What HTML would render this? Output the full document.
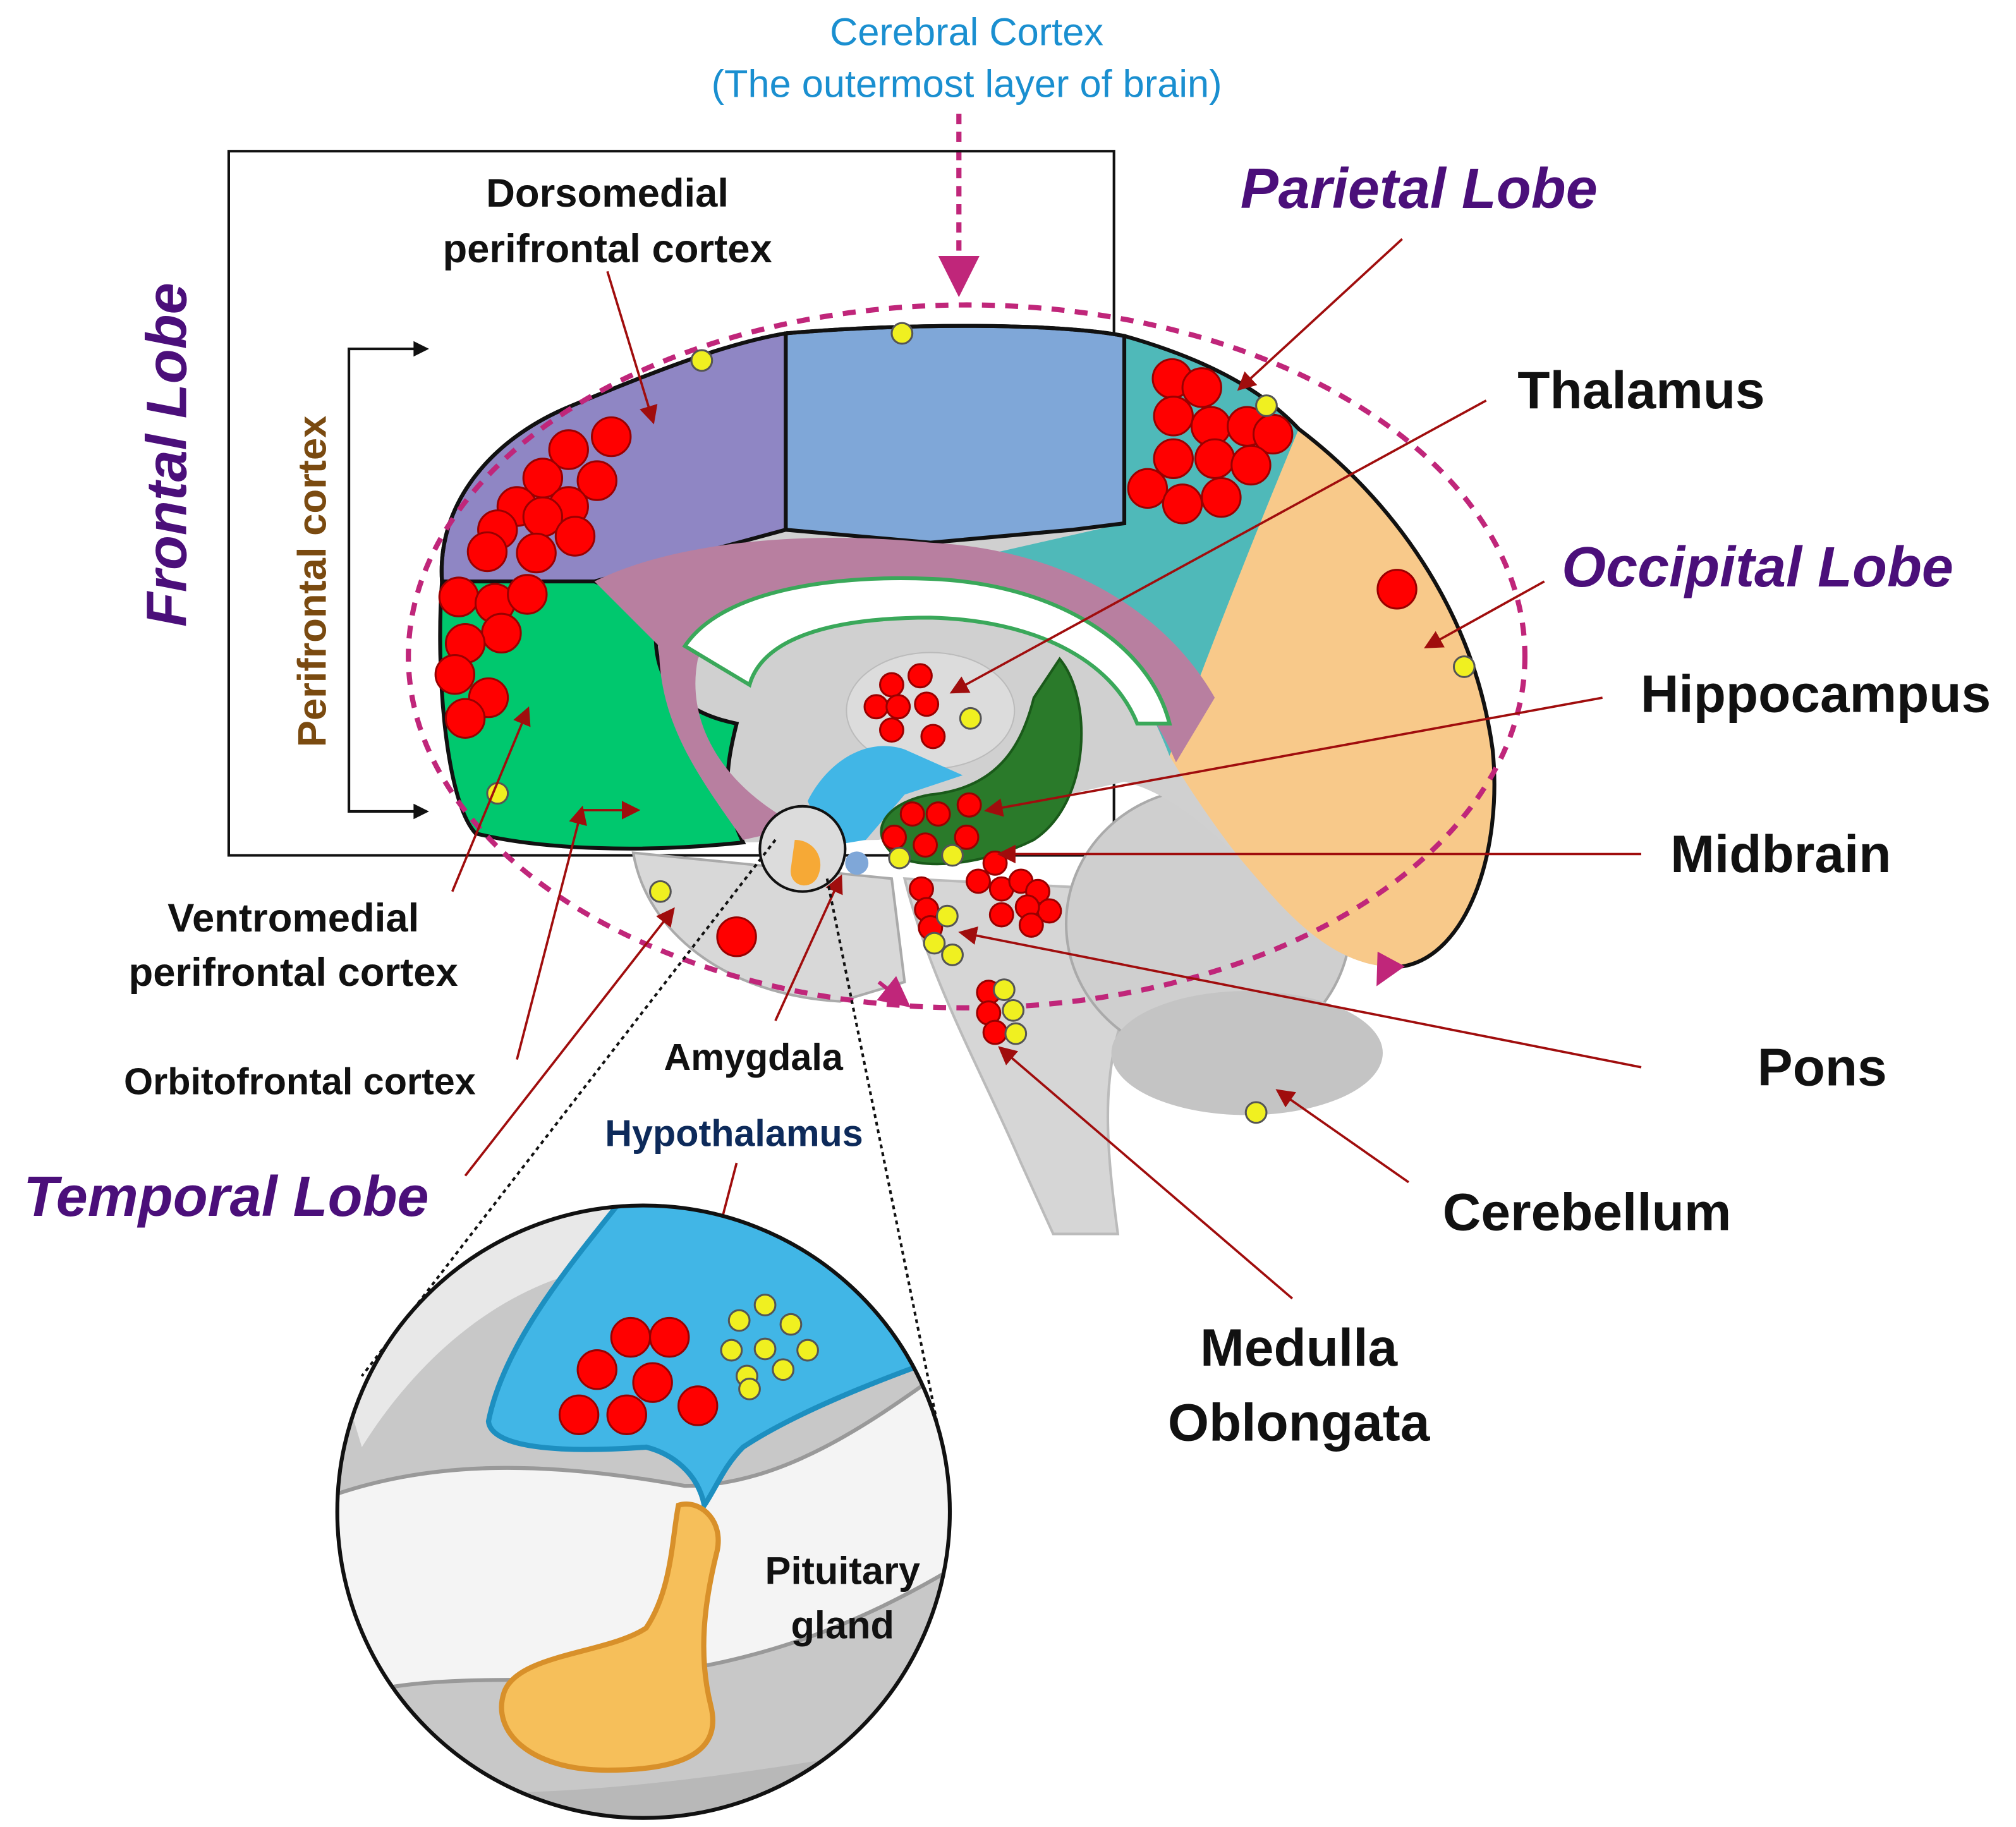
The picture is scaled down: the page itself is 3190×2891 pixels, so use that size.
<!DOCTYPE html>
<html><head><meta charset="utf-8"><style>
html,body{margin:0;padding:0;background:#fff;}
svg{display:block;}
text{font-family:"Liberation Sans",sans-serif;}
</style></head><body>
<svg width="3190" height="2891" viewBox="0 0 1560 1414" preserveAspectRatio="none" xmlns="http://www.w3.org/2000/svg">
<defs>
<marker id="ar" markerWidth="8" markerHeight="8" refX="6" refY="4" orient="auto"><path d="M0,0 L8,4 L0,8 Z" fill="#a00d0d"/></marker>
<marker id="am" markerWidth="8" markerHeight="8" refX="6" refY="4" orient="auto"><path d="M0,0 L8,4 L0,8 Z" fill="#c0267a"/></marker>
<clipPath id="cc"><circle cx="498" cy="1170" r="237"/></clipPath>
</defs>
<rect width="1560" height="1414" fill="#fff"/>
<text x="748" y="35" font-size="30" fill="#1a8fd0" text-anchor="middle">Cerebral Cortex</text>
<text x="748" y="75" font-size="30" fill="#1a8fd0" text-anchor="middle">(The outermost layer of brain)</text>
<line x1="742" y1="88" x2="742" y2="222" stroke="#c0267a" stroke-width="4" stroke-dasharray="8,6" marker-end="url(#am)"/>
<rect x="177" y="117" width="685" height="545" fill="none" stroke="#111" stroke-width="2"/>
<path d="M700,680 C720,760 760,830 790,900 L815,955 L865,955 C855,880 850,820 880,760 L900,690 Z" fill="#d6d6d6" stroke="#bbb" stroke-width="2"/>
<ellipse cx="935" cy="715" rx="110" ry="105" fill="#cfcfcf" stroke="#aaa" stroke-width="2"/>
<ellipse cx="965" cy="815" rx="105" ry="48" fill="#c4c4c4"/>
<path d="M490,660 C500,720 560,770 650,775 L700,760 L690,680 Z" fill="#d8d8d8" stroke="#aaa" stroke-width="2"/>
<path d="M342,450 C338,390 380,340 440,315 C500,290 560,266 608,258 C700,250 820,250 870,260 C930,277 975,300 1005,332 C1075,385 1140,470 1155,580 C1163,660 1135,740 1085,748 C1030,752 990,700 960,665 C930,635 900,612 870,605 L760,630 L680,650 L575,652 C500,660 420,658 368,645 C345,620 337,520 342,450 Z" fill="#d0d0d0"/>
<path d="M1005,332 C1075,385 1140,470 1155,580 C1163,660 1135,740 1085,748 C1030,752 990,700 960,665 C940,640 920,610 905,585 C930,520 960,440 1005,332 Z" fill="#f8c98a"/>
<path d="M870,260 C930,277 975,300 1005,332 C960,440 930,520 905,585 C880,520 840,470 800,445 L760,430 L870,405 Z" fill="#4fb9b9"/>
<path d="M608,258 C700,250 820,250 870,260 L870,405 L830,410 L720,420 L608,410 Z" fill="#7fa7d8" stroke="#111" stroke-width="3"/>
<path d="M342,450 C338,390 380,340 440,315 C500,290 560,266 608,258 L608,410 L460,450 Z" fill="#8f86c4" stroke="#111" stroke-width="3"/>
<path d="M342,450 L460,450 L510,470 C500,520 520,550 570,560 C560,600 560,620 575,652 C500,660 420,658 368,645 C345,620 337,520 342,450 Z" fill="#00c86e" stroke="#111" stroke-width="3"/>
<path d="M342,450 C338,390 380,340 440,315 C500,290 560,266 608,258 C700,250 820,250 870,260 C930,277 975,300 1005,332 C1075,385 1140,470 1155,580 C1163,660 1135,740 1085,748" fill="none" stroke="#111" stroke-width="3"/>
<path d="M460,450 C520,420 620,410 720,420 C820,425 900,470 940,540 L910,590 C880,520 820,470 720,460 C620,455 560,470 540,510 C530,560 560,610 620,640 L575,650 C540,600 510,560 510,500 Z" fill="#b87fa0"/>
<path d="M530,500 C560,455 650,445 720,448 C820,452 890,500 905,560 L880,560 C860,510 800,480 720,478 C640,478 590,495 580,530 Z" fill="#fff" stroke="#3aa85a" stroke-width="3"/>
<ellipse cx="720" cy="550" rx="65" ry="45" fill="#dcdcdc" stroke="#bbb"/>
<path d="M625,620 C640,590 670,570 700,580 L745,600 L700,615 L670,650 L640,655 Z" fill="#41b6e6"/>
<path d="M820,510 C845,540 845,620 800,650 C760,670 710,675 690,660 C670,640 690,620 720,615 C770,610 790,580 800,540 Z" fill="#2a7a2a" stroke="#1a5a1a" stroke-width="2"/>
<ellipse cx="748" cy="508" rx="432" ry="272" fill="none" stroke="#c0267a" stroke-width="4" stroke-dasharray="10,8"/>
<circle cx="621" cy="657" r="33" fill="#dcdcdc" stroke="#111" stroke-width="2"/>
<path d="M615,650 C630,650 640,665 632,680 C625,690 610,685 612,672 Z" fill="#f6a936"/>
<circle cx="663" cy="668" r="9" fill="#7fa7d8"/>
<path d="M330,270 L270,270 L270,628 L330,628" fill="none" stroke="#111" stroke-width="2"/>
<path d="M320,264 L332,270 L320,276 Z M320,622 L332,628 L320,634 Z" fill="#111"/>
<g fill="#f00" stroke="#900" stroke-width="1.5">
<circle cx="473" cy="338" r="15"/><circle cx="440" cy="348" r="15"/><circle cx="462" cy="372" r="15"/><circle cx="420" cy="370" r="15"/><circle cx="400" cy="392" r="15"/><circle cx="440" cy="392" r="15"/><circle cx="420" cy="400" r="15"/><circle cx="385" cy="410" r="15"/><circle cx="445" cy="415" r="15"/><circle cx="377" cy="427" r="15"/><circle cx="415" cy="428" r="15"/>
<circle cx="355" cy="462" r="15"/><circle cx="383" cy="467" r="15"/><circle cx="408" cy="460" r="15"/><circle cx="388" cy="490" r="15"/><circle cx="360" cy="498" r="15"/><circle cx="352" cy="522" r="15"/><circle cx="378" cy="540" r="15"/><circle cx="360" cy="556" r="15"/>
<circle cx="907" cy="293" r="15"/><circle cx="930" cy="300" r="15"/><circle cx="908" cy="322" r="15"/><circle cx="937" cy="330" r="15"/><circle cx="965" cy="330" r="15"/><circle cx="985" cy="336" r="15"/><circle cx="908" cy="355" r="15"/><circle cx="940" cy="355" r="15"/><circle cx="968" cy="360" r="15"/><circle cx="888" cy="378" r="15"/><circle cx="915" cy="390" r="15"/><circle cx="945" cy="385" r="15"/>
<circle cx="1081" cy="456" r="15"/><circle cx="570" cy="725" r="15"/>
<circle cx="690" cy="530" r="9"/><circle cx="712" cy="523" r="9"/><circle cx="678" cy="547" r="9"/><circle cx="695" cy="547" r="9"/><circle cx="717" cy="545" r="9"/><circle cx="690" cy="565" r="9"/><circle cx="722" cy="570" r="9"/>
<circle cx="706" cy="630" r="9"/><circle cx="726" cy="630" r="9"/><circle cx="750" cy="623" r="9"/><circle cx="692" cy="648" r="9"/><circle cx="716" cy="654" r="9"/><circle cx="748" cy="648" r="9"/>
<circle cx="770" cy="668" r="9"/><circle cx="757" cy="682" r="9"/><circle cx="775" cy="688" r="9"/><circle cx="790" cy="682" r="9"/><circle cx="803" cy="690" r="9"/><circle cx="812" cy="705" r="9"/><circle cx="795" cy="702" r="9"/><circle cx="775" cy="708" r="9"/><circle cx="798" cy="716" r="9"/>
<circle cx="713" cy="688" r="9"/><circle cx="717" cy="704" r="9"/><circle cx="720" cy="718" r="9"/>
<circle cx="765" cy="768" r="9"/><circle cx="765" cy="784" r="9"/><circle cx="770" cy="799" r="9"/>
</g>
<g fill="#f0f020" stroke="#555" stroke-width="1.5">
<circle cx="543" cy="279" r="8"/><circle cx="698" cy="258" r="8"/><circle cx="980" cy="314" r="8"/><circle cx="1133" cy="516" r="8"/><circle cx="751" cy="556" r="8"/><circle cx="385" cy="614" r="8"/><circle cx="696" cy="664" r="8"/><circle cx="737" cy="662" r="8"/><circle cx="511" cy="690" r="8"/><circle cx="972" cy="861" r="8"/>
<circle cx="733" cy="709" r="8"/><circle cx="723" cy="730" r="8"/><circle cx="737" cy="739" r="8"/><circle cx="777" cy="766" r="8"/><circle cx="784" cy="782" r="8"/><circle cx="786" cy="800" r="8"/>
</g>
<g stroke="#a00d0d" stroke-width="1.8" fill="none" marker-end="url(#ar)">
<line x1="470" y1="210" x2="505" y2="325"/>
<line x1="1085" y1="185" x2="960" y2="300"/>
<line x1="1150" y1="310" x2="738" y2="535"/>
<line x1="1195" y1="450" x2="1105" y2="500"/>
<line x1="1240" y1="540" x2="765" y2="627"/>
<line x1="1270" y1="661" x2="775" y2="661"/>
<line x1="1270" y1="826" x2="745" y2="722"/>
<line x1="1090" y1="915" x2="990" y2="845"/>
<line x1="1000" y1="1005" x2="775" y2="812"/>
<line x1="350" y1="690" x2="408" y2="550"/>
<line x1="400" y1="820" x2="450" y2="627"/><line x1="450" y1="627" x2="492" y2="627"/>
<line x1="360" y1="910" x2="520" y2="705"/>
<line x1="600" y1="790" x2="650" y2="680"/>
<line x1="570" y1="900" x2="553" y2="965"/>
<line x1="580" y1="1235" x2="525" y2="1295"/>
</g>
<line x1="680" y1="760" x2="700" y2="776" stroke="#c0267a" stroke-width="3" marker-end="url(#am)"/>
<line x1="1075" y1="745" x2="1068" y2="758" stroke="#c0267a" stroke-width="3" marker-end="url(#am)"/>
<line x1="600" y1="650" x2="280" y2="1065" stroke="#111" stroke-width="2" stroke-dasharray="3,3"/>
<line x1="640" y1="680" x2="733" y2="1140" stroke="#111" stroke-width="2" stroke-dasharray="3,3"/>
<g clip-path="url(#cc)">
<rect x="250" y="930" width="500" height="480" fill="#c8c8c8"/>
<path d="M250,1020 C330,950 420,930 480,930 L470,980 C400,990 330,1040 280,1120 Z" fill="#e8e8e8"/>
<path d="M250,1160 C330,1130 420,1130 530,1150 C620,1150 700,1080 760,1040 L760,1200 C680,1250 580,1300 430,1300 C350,1300 300,1300 250,1320 Z" fill="#f4f4f4" stroke="#999" stroke-width="3"/>
<path d="M480,930 L760,930 L760,1040 C700,1060 620,1090 575,1120 C560,1135 555,1150 545,1165 C540,1140 520,1125 500,1120 C430,1125 380,1120 378,1100 C390,1040 440,980 480,930 Z" fill="#41b6e6" stroke="#1d8fc0" stroke-width="4"/>
<path d="M525,1165 C540,1160 560,1175 555,1200 C545,1240 540,1280 550,1320 C560,1360 520,1370 470,1370 C410,1370 380,1340 390,1310 C400,1280 470,1280 500,1260 C520,1230 520,1190 525,1165 Z" fill="#f6bf5a" stroke="#d8902a" stroke-width="4"/>
<path d="M250,1380 C350,1390 450,1400 760,1340 L760,1414 L250,1414 Z" fill="#b8b8b8"/>
</g>
<circle cx="498" cy="1170" r="237" fill="none" stroke="#111" stroke-width="3"/>
<g fill="#f00" stroke="#900" stroke-width="1.5">
<circle cx="488" cy="1035" r="15"/><circle cx="518" cy="1035" r="15"/><circle cx="462" cy="1060" r="15"/><circle cx="505" cy="1070" r="15"/><circle cx="448" cy="1095" r="15"/><circle cx="485" cy="1095" r="15"/><circle cx="540" cy="1088" r="15"/>
</g>
<g fill="#f0f020" stroke="#555" stroke-width="1.5">
<circle cx="592" cy="1010" r="8"/><circle cx="572" cy="1022" r="8"/><circle cx="612" cy="1025" r="8"/><circle cx="566" cy="1045" r="8"/><circle cx="592" cy="1044" r="8"/><circle cx="625" cy="1045" r="8"/><circle cx="578" cy="1065" r="8"/><circle cx="606" cy="1060" r="8"/><circle cx="580" cy="1075" r="8"/>
</g>
<g font-weight="bold" fill="#111">
<text x="470" y="160" font-size="31" text-anchor="middle">Dorsomedial</text>
<text x="470" y="203" font-size="31" text-anchor="middle">perifrontal cortex</text>
<text x="1270" y="316" font-size="41" text-anchor="middle">Thalamus</text>
<text x="1405" y="551" font-size="41" text-anchor="middle">Hippocampus</text>
<text x="1378" y="675" font-size="41" text-anchor="middle">Midbrain</text>
<text x="1410" y="840" font-size="41" text-anchor="middle">Pons</text>
<text x="1228" y="952" font-size="41" text-anchor="middle">Cerebellum</text>
<text x="1005" y="1057" font-size="41" text-anchor="middle">Medulla</text>
<text x="1005" y="1115" font-size="41" text-anchor="middle">Oblongata</text>
<text x="227" y="721" font-size="31" text-anchor="middle">Ventromedial</text>
<text x="227" y="763" font-size="31" text-anchor="middle">perifrontal cortex</text>
<text x="232" y="847" font-size="29" text-anchor="middle">Orbitofrontal cortex</text>
<text x="583" y="828" font-size="29" text-anchor="middle">Amygdala</text>
<text x="568" y="887" font-size="29" text-anchor="middle" fill="#0d2a5a">Hypothalamus</text>
<text x="652" y="1226" font-size="30" text-anchor="middle">Pituitary</text>
<text x="652" y="1268" font-size="30" text-anchor="middle">gland</text>
</g>
<g font-weight="bold" font-style="italic" fill="#4b0f7a">
<text x="1098" y="161" font-size="44" text-anchor="middle">Parietal Lobe</text>
<text x="1360" y="454" font-size="44" text-anchor="middle">Occipital Lobe</text>
<text x="175" y="941" font-size="44" text-anchor="middle">Temporal Lobe</text>
<text transform="translate(144,352) rotate(-90)" font-size="44" text-anchor="middle">Frontal Lobe</text>
</g>
<text transform="translate(252,450) rotate(-90)" font-size="31" font-weight="bold" fill="#7a4a10" text-anchor="middle">Perifrontal cortex</text>
</svg>
</body></html>
